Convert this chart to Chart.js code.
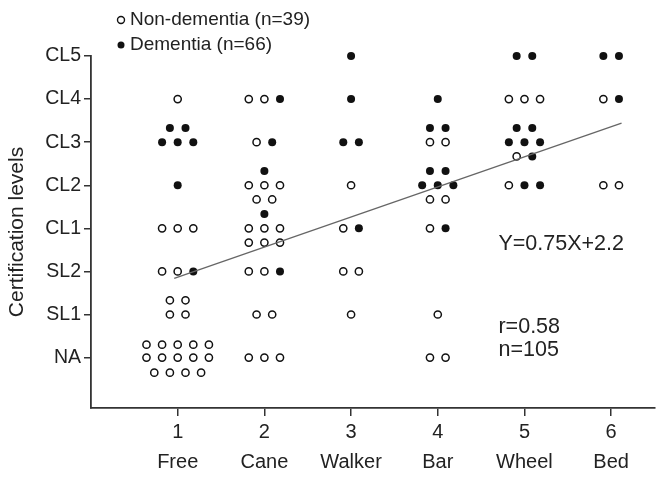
<!DOCTYPE html>
<html>
<head>
<meta charset="utf-8">
<script src="https://cdn.jsdelivr.net/npm/chart.js@4/dist/chart.umd.min.js"></script>
<style>
  body { margin: 0; background: #fff; }
  #wrap { width: 660px; height: 479px; }
</style>
</head>
<body>
<div id="wrap"><canvas id="graph_ID" width="660" height="479"></canvas></div>
<script>
// categories / tick labels
var xNums = ['1', '2', '3', '4', '5', '6'];
var xNames = ['Free', 'Cane', 'Walker', 'Bar', 'Wheel', 'Bed'];
var yLevels = ['NA', 'SL1', 'SL2', 'CL1', 'CL2', 'CL3', 'CL4', 'CL5'];   // values 1..8

// points: [x, y]
var openPts = [
  // Free
  [1.00, 7], [0.82, 4], [1.00, 4], [1.18, 4], [0.82, 3], [1.00, 3],
  [0.91, 2.33], [1.09, 2.33], [0.91, 2], [1.09, 2],
  [0.64, 1.3], [0.82, 1.3], [1.00, 1.3], [1.18, 1.3], [1.36, 1.3],
  [0.64, 1], [0.82, 1], [1.00, 1], [1.18, 1], [1.36, 1],
  [0.73, 0.65], [0.91, 0.65], [1.09, 0.65], [1.27, 0.65],
  // Cane
  [1.82, 7], [2.00, 7], [1.91, 6],
  [1.82, 5], [2.00, 5], [2.18, 5], [1.91, 4.67], [2.09, 4.67],
  [1.82, 4], [2.00, 4], [2.18, 4], [1.82, 3.67], [2.00, 3.67], [2.18, 3.67],
  [1.82, 3], [2.00, 3], [1.91, 2], [2.09, 2], [1.82, 1], [2.00, 1], [2.18, 1],
  // Walker
  [3.00, 5], [2.91, 4], [2.91, 3], [3.09, 3], [3.00, 2],
  // Bar
  [3.91, 6], [4.09, 6], [3.91, 4.67], [4.09, 4.67], [3.91, 4], [4.00, 2], [3.91, 1], [4.09, 1],
  // Wheel
  [4.82, 7], [5.00, 7], [5.18, 7], [4.91, 5.67], [4.82, 5],
  // Bed
  [5.91, 7], [5.91, 5], [6.09, 5]
];
var filledPts = [
  // Free
  [0.91, 6.33], [1.09, 6.33], [0.82, 6], [1.00, 6], [1.18, 6], [1.00, 5], [1.18, 3],
  // Cane
  [2.18, 7], [2.09, 6], [2.00, 5.33], [2.00, 4.33], [2.18, 3],
  // Walker
  [3.00, 8], [3.00, 7], [2.91, 6], [3.09, 6], [3.09, 4],
  // Bar
  [4.00, 7], [3.91, 6.33], [4.09, 6.33], [3.91, 5.33], [4.09, 5.33],
  [3.82, 5], [4.00, 5], [4.18, 5], [4.09, 4],
  // Wheel
  [4.91, 8], [5.09, 8], [4.91, 6.33], [5.09, 6.33], [4.82, 6], [5.00, 6], [5.18, 6],
  [5.09, 5.67], [5.00, 5], [5.18, 5],
  // Bed
  [5.91, 8], [6.09, 8], [6.09, 7]
];

// regression line end points
var lineX = [0.96, 6.12];
var lineY = [2.84, 6.44];

var legendTexts = ['Non-dementia (n=39)', 'Dementia (n=66)'];
var notes = [
  { text: 'Y=0.75X+2.2', x: 4.70, y: 3.64 },
  { text: 'r=0.58', x: 4.70, y: 1.71 },
  { text: 'n=105', x: 4.70, y: 1.17 }
];

var txtColor = '#222';
var fontFam = '"Liberation Sans", Arial, Helvetica, sans-serif';

function toXY(arr) {
  return arr.map(function (p) { return { x: p[0], y: p[1] }; });
}

var lineData = lineX.map(function (v, i) { return { x: v, y: lineY[i] }; });

var textPlugin = {
  id: 'texts',
  afterDraw: function (chart) {
    var ctx = chart.ctx;
    var xs = chart.scales.x, ys = chart.scales.y;
    ctx.save();
    ctx.fillStyle = txtColor;
    ctx.textBaseline = 'middle';
    ctx.textAlign = 'left';
    ctx.font = '21.5px ' + fontFam;
    notes.forEach(function (n) {
      ctx.fillText(n.text, xs.getPixelForValue(n.x), ys.getPixelForValue(n.y));
    });
    // legend
    ctx.font = '19px ' + fontFam;
    var lx = 121, ly = [20, 45];
    legendTexts.forEach(function (t, i) {
      ctx.beginPath();
      ctx.arc(lx, ly[i], 3.5, 0, Math.PI * 2);
      if (i == 0) {
        ctx.fillStyle = '#fff'; ctx.fill();
        ctx.lineWidth = 1.4; ctx.strokeStyle = '#111'; ctx.stroke();
      } else {
        ctx.fillStyle = '#111'; ctx.fill();
      }
      ctx.fillStyle = txtColor;
      ctx.fillText(t, lx + 9, ly[i]);
    });
    ctx.restore();
  }
};

var ctx = document.getElementById('graph_ID').getContext('2d');
var graphique = new Chart(ctx, {
  type: 'scatter',
  data: {
    datasets: [
      {
        type: 'line',
        data: lineData,
        borderColor: '#666',
        borderWidth: 1.3,
        pointRadius: 0,
        fill: false
      },
      {
        label: legendTexts[0],
        data: toXY(openPts),
        pointRadius: 3.6,
        pointBackgroundColor: '#fff',
        pointBorderColor: '#111',
        pointBorderWidth: 1.5,
        clip: false
      },
      {
        label: legendTexts[1],
        data: toXY(filledPts),
        pointRadius: 4,
        pointBackgroundColor: '#111',
        pointBorderColor: '#111',
        pointBorderWidth: 0,
        clip: false
      }
    ]
  },
  options: {
    responsive: false,
    animation: false,
    layout: { padding: { top: 56, right: 0, left: 0, bottom: 0 } },
    plugins: {
      legend: { display: false },
      tooltip: { enabled: false }
    },
    scales: {
      x: {
        type: 'linear',
        min: 0,
        max: 6.5,
        afterBuildTicks: function (axis) {
          axis.ticks = xNums.map(function (v, i) { return { value: i + 1 }; });
        },
        afterFit: function (axis) { axis.height = 71; },
        ticks: {
          color: txtColor,
          padding: 1,
          maxRotation: 0,
          autoSkip: false,
          font: { family: fontFam, size: 20, lineHeight: 1.5 },
          callback: function (v) { return [xNums[v - 1], xNames[v - 1]]; }
        },
        grid: { drawOnChartArea: false, tickLength: 8, color: '#333', lineWidth: 1.5 },
        border: { display: true, color: '#333', width: 1.8 }
      },
      y: {
        type: 'linear',
        min: -0.17,
        max: 8,
        afterBuildTicks: function (axis) {
          axis.ticks = yLevels.map(function (v, i) { return { value: i + 1 }; });
        },
        afterFit: function (axis) { axis.width = 91; },
        ticks: {
          color: txtColor,
          padding: 3,
          autoSkip: false,
          font: { family: fontFam, size: 19.5 },
          callback: function (v) { return yLevels[v - 1]; }
        },
        grid: { drawOnChartArea: false, tickLength: 7, color: '#333', lineWidth: 1.5 },
        border: { display: true, color: '#333', width: 1.8 },
        title: {
          display: true,
          text: 'Certification levels',
          color: txtColor,
          font: { family: fontFam, size: 21 },
          padding: { top: 5, bottom: 0 }
        }
      }
    }
  },
  plugins: [textPlugin]
});
</script>
</body>
</html>
